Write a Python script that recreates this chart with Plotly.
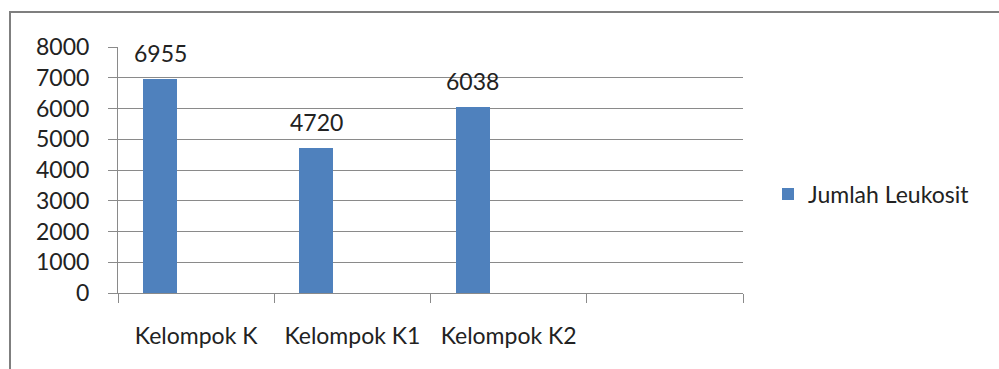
import plotly.graph_objects as go

# Leukocyte counts per group
categories = ["Kelompok K", "Kelompok K1", "Kelompok K2"]
leukosit = [6955, 4720, 6038]
series_name = "Jumlah Leukosit"
y_ticks = [0, 1000, 2000, 3000, 4000, 5000, 6000, 7000, 8000]

BAR_COLOR = "#4F81BD"
GRID = "#8a8a8a"
TEXT = "#222222"
FONT = "Lato"

positions = list(range(len(categories)))
bar_width = 0.218
bar_offset = -0.34

fig = go.Figure()
fig.add_trace(go.Bar(
    x=positions,
    y=leukosit,
    name=series_name,
    width=bar_width,
    offset=bar_offset,
    marker=dict(color=BAR_COLOR, line=dict(width=0)),
    showlegend=True,
))

# value labels above each bar
for pos, val in zip(positions, leukosit):
    fig.add_annotation(
        x=pos + bar_offset + bar_width / 2, y=val,
        text=str(val), showarrow=False,
        xanchor="center", yanchor="middle", yshift=26,
        font=dict(family=FONT, size=23, color=TEXT),
    )

# outer chart frame
fig.add_shape(
    type="rect", xref="paper", yref="paper",
    x0=(10 - 118) / 625, x1=(1010 - 118) / 625,
    y0=(293 - 380) / 246, y1=(293 - 12) / 246,
    line=dict(color="#7f7f7f", width=2), fillcolor="rgba(0,0,0,0)",
    layer="below",
)

fig.update_layout(
    width=999, height=369,
    margin=dict(l=118, r=256, t=47, b=76),
    paper_bgcolor="white", plot_bgcolor="white",
    font=dict(family=FONT, color=TEXT),
    legend=dict(
        x=1.040, y=0.402, xanchor="left", yanchor="middle",
        font=dict(family=FONT, size=23, color=TEXT),
        itemwidth=30, bgcolor="rgba(0,0,0,0)",
    ),
    xaxis=dict(
        range=[-0.5, 3.5],
        tickmode="array", tickvals=positions, ticktext=categories,
        ticks="", showgrid=False, zeroline=False,
        showline=True, linecolor=GRID, linewidth=1,
        tickfont=dict(family=FONT, size=23, color=TEXT),
        ticklabelstandoff=22,
        minor=dict(
            tickmode="array", tickvals=[-0.5, 0.5, 1.5, 2.5, 3.5],
            ticks="outside", ticklen=9, tickcolor=GRID, tickwidth=1,
            showgrid=False,
        ),
    ),
    yaxis=dict(
        range=[0, 8000],
        tickmode="array", tickvals=y_ticks,
        ticks="outside", ticklen=9, tickcolor=GRID, tickwidth=1,
        showgrid=True, gridcolor=GRID, gridwidth=1,
        zeroline=False,
        showline=True, linecolor=GRID, linewidth=1,
        tickfont=dict(family=FONT, size=23, color=TEXT),
        ticklabelstandoff=14,
    ),
    bargap=0,
)

fig.write_html("out.html")
